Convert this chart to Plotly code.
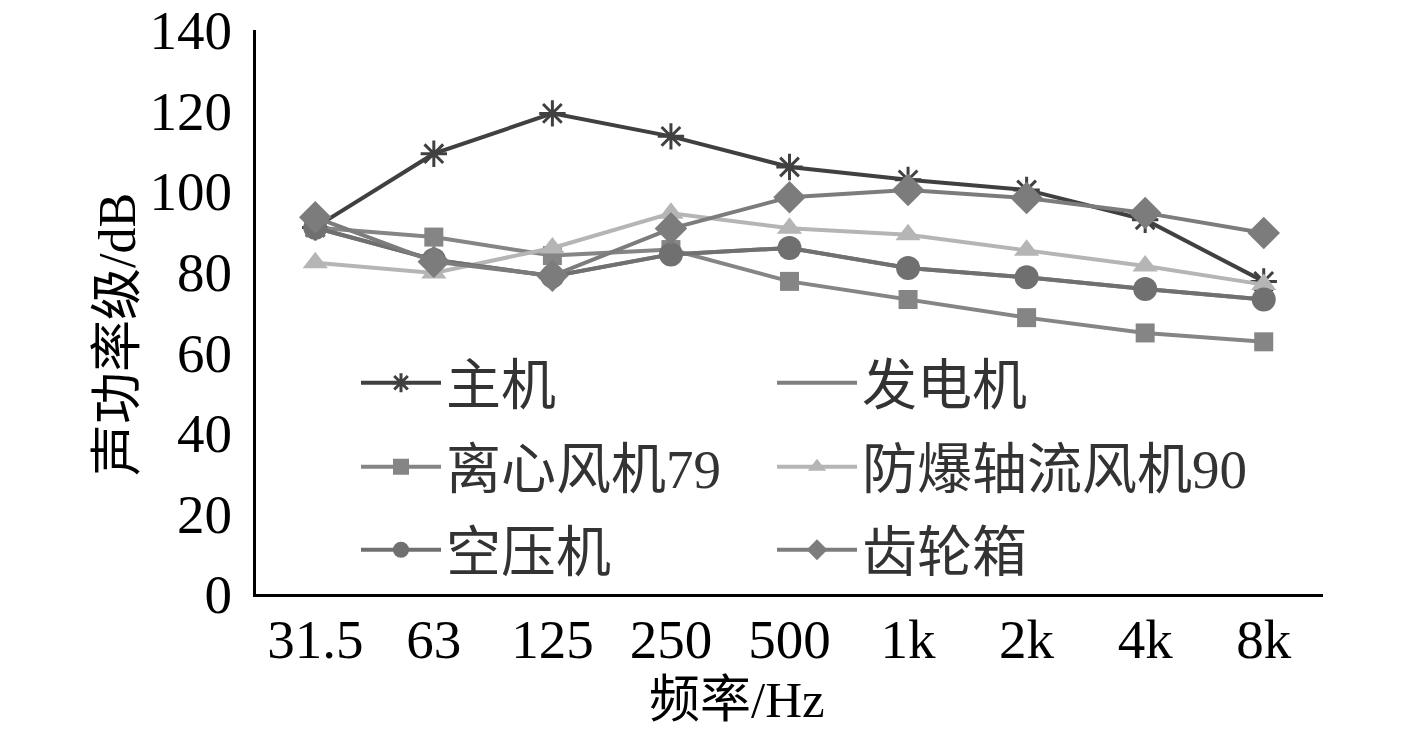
import plotly.graph_objects as go

freqs = ["31.5", "63", "125", "250", "500", "1k", "2k", "4k", "8k"]
y_ticks = [0, 20, 40, 60, 80, 100, 120, 140]

names = ["主机", "发电机", "离心风机79", "防爆轴流风机90", "空压机", "齿轮箱"]
zhuji = [91.0, 109.3, 119.3, 113.6, 106.0, 102.8, 100.3, 92.9, 77.6]
fadianji = [90.9, 83.0, 78.9, 84.3, 85.9, 80.9, 78.6, 75.7, 73.1]
lixin = [91.0, 88.6, 84.0, 85.5, 77.6, 73.1, 68.6, 64.8, 62.6]
fangbao = [82.2, 79.7, 85.9, 94.5, 90.8, 89.2, 85.3, 81.4, 76.8]
kongyaji = [90.9, 83.0, 78.9, 84.3, 85.9, 80.9, 78.6, 75.7, 73.1]
chilun = [93.5, 82.5, 79.0, 90.7, 98.5, 100.3, 98.3, 94.6, 89.6]

series = [zhuji, fadianji, lixin, fangbao, kongyaji, chilun]
colors = ["#404040", "#7f7f7f", "#858585", "#b5b5b5", "#707070", "#7c7c7c"]
symbols = ["asterisk-open", None, "square", "triangle-up", "circle", "diamond"]
sizes = [22, 0, 19, 22, 24, 25]
legend_ids = ["legend", "legend2", "legend3", "legend4", "legend5", "legend6"]
legend_rows = [383, 383, 467, 467, 550, 550]
legend_cols = [356, 772, 356, 772, 356, 772]

FONT = "Liberation Serif, 'Noto Sans CJK SC', serif"

L, R, T, B = 256, 1323, 30, 594
W, H = 1417, 729

fig = go.Figure()
for name, vals, col, sym, sz, lg in zip(names, series, colors, symbols, sizes, legend_ids):
    if sym is None:
        fig.add_trace(go.Scatter(x=freqs, y=vals, name=name, mode="lines",
                                 line=dict(color=col, width=4), legend=lg))
    else:
        fig.add_trace(go.Scatter(
            x=freqs, y=vals, name=name, mode="lines+markers", legend=lg,
            line=dict(color=col, width=4),
            marker=dict(symbol=sym, size=sz, color=col,
                        line=dict(color=col, width=3 if sym == "asterisk-open" else 0)),
        ))


def leg(xl, yc):
    return dict(
        orientation="h", x=(xl - L) / (R - L), y=(B - yc) / (B - T),
        xanchor="left", yanchor="middle",
        font=dict(family=FONT, size=55, color="#333333"),
        bgcolor="rgba(0,0,0,0)", itemwidth=80,
    )


legends = {lid: leg(xc, yc) for lid, xc, yc in zip(legend_ids, legend_cols, legend_rows)}

fig.update_layout(
    width=W, height=H,
    margin=dict(l=L, r=W - R, t=T, b=H - B, autoexpand=False),
    paper_bgcolor="white", plot_bgcolor="white",
    font=dict(family=FONT, size=54, color="black"),
    showlegend=True,
    xaxis=dict(
        type="category", range=[-0.5, 8.5], automargin=False,
        showline=True, linecolor="black", linewidth=3,
        showgrid=False, zeroline=False, ticks="",
        ticklabelstandoff=-5, ticklabeloverflow="allow",
        tickfont=dict(family=FONT, size=55, color="black"),
    ),
    yaxis=dict(
        range=[0, 140], tickvals=y_ticks, automargin=False,
        showline=True, linecolor="black", linewidth=3,
        showgrid=False, zeroline=False, ticks="",
        ticklabelstandoff=10, ticklabeloverflow="allow",
        tickfont=dict(family=FONT, size=55, color="black"),
    ),
    annotations=[
        dict(text="频率/Hz", xref="paper", yref="paper", x=(737 - L) / (R - L),
             y=-(700 - B) / (B - T),
             xanchor="center", yanchor="middle", showarrow=False,
             font=dict(family=FONT, size=51, color="black")),
        dict(text="声功率级/dB", xref="paper", yref="paper", x=(117 - L) / (R - L),
             y=(B - 335) / (B - T), xanchor="center", yanchor="middle", showarrow=False,
             textangle=-90, font=dict(family=FONT, size=52, color="black")),
    ],
)
fig.update_layout(**legends)

fig.write_html(
    "out.html",
    config={"displayModeBar": False},
    post_script="document.body.style.margin='0';document.body.style.padding='0';",
)
